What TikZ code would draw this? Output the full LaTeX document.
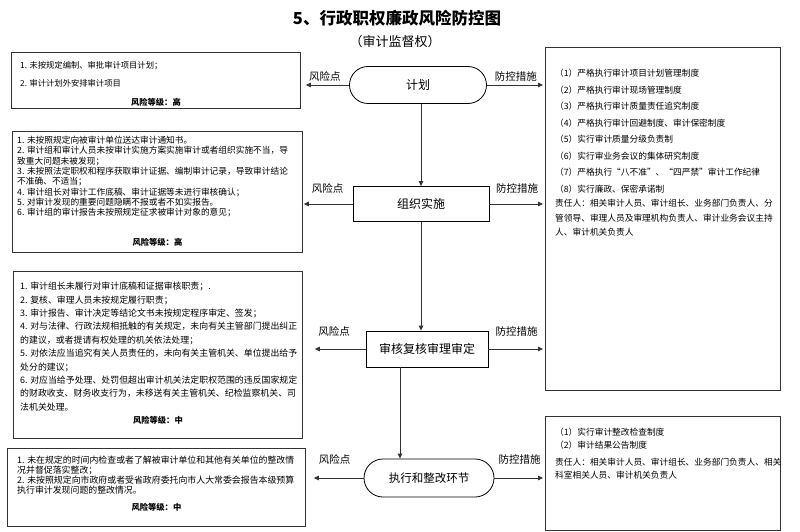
\documentclass[tikz,border=0pt]{standalone}
\usepackage{fontspec}
\setmainfont{Noto Sans CJK SC}
\usetikzlibrary{calc,arrows.meta,shapes.misc}

\begin{document}
\begin{tikzpicture}[x=1pt,y=-1pt,
		stad/.style={rounded rectangle,draw,line width=0.8pt,minimum height=37pt,inner sep=0pt,font=\fontsize{12}{14}\selectfont},
		stepbox/.style={rectangle,draw,line width=0.8pt,minimum height=36pt,inner sep=0pt,font=\fontsize{12}{14}\selectfont},
		box/.style={rectangle,draw=black!80,line width=0.8pt,anchor=north west,inner sep=0pt},
		txt/.style={anchor=north west,inner sep=0pt,align=left},
		lvl/.style={inner sep=0pt,font=\bfseries\fontsize{8.3}{10}\selectfont},
		lbl/.style={inner sep=1pt,font=\fontsize{10.5}{12}\selectfont},
		arr/.style={-{Triangle[length=5pt,width=4.5pt]},line width=0.8pt,draw=black!80}]
		\useasboundingbox (0,0) rectangle (800,532);

		% title
		\node[font=\bfseries\fontsize{16.5}{18}\selectfont] (title) at (397,18) {5、行政职权廉政风险防控图};
		\node[font=\fontsize{13}{15}\selectfont] (subtitle) at (395,42) {（审计监督权）};

		% flow
		\node[stad,minimum width=137pt] (plan) at (418,85) {计划};
		\node[stepbox,minimum width=136pt,minimum height=35pt] (impl) at (421,204) {组织实施};
		\node[stepbox,minimum width=122pt] (review) at (427,349) {审核复核审理审定};
		\node[stad,minimum width=130pt,minimum height=38pt,font=\fontsize{11.5}{14}\selectfont] (exec) at (429,478) {执行和整改环节};

		% risk boxes
		\node[box,minimum width=289pt,minimum height=56pt] (risk1) at (11,52) {};
		\node[box,minimum width=290pt,minimum height=121pt] (risk2) at (12,131) {};
		\node[box,minimum width=289pt,minimum height=167pt] (risk3) at (13,271) {};
		\node[box,minimum width=298pt,minimum height=78pt] (risk4) at (7,448) {};

		% control boxes
		\node[box,minimum width=235pt,minimum height=343pt] (ctl1) at (545,47) {};
		\node[box,minimum width=235pt,minimum height=114pt] (ctl2) at (545,416) {};

		\node[txt,font=\fontsize{8.3}{18}\selectfont] (risktxt1) at (20,61) {1. 未按规定编制、审批审计项目计划；\\
			2. 审计计划外安排审计项目};
		\node[lvl] (lv1) at ([yshift=6pt]risk1.south) {风险等级：高};

		\node[txt,font=\fontsize{8.7}{10.3}\selectfont] (risktxt2) at (17,136) {1. 未按照规定向被审计单位送达审计通知书。\\
			2. 审计组和审计人员未按审计实施方案实施审计或者组织实施不当，导\\
			致重大问题未被发现；\\
			3. 未按照法定职权和程序获取审计证据、编制审计记录，导致审计结论\\
			不准确、不适当；\\
			4. 审计组长对审计工作底稿、审计证据等未进行审核确认；\\
			5. 对审计发现的重要问题隐瞒不报或者不如实报告。\\
			6. 审计组的审计报告未按照规定征求被审计对象的意见；};
		\node[lvl] (lv2) at ([yshift=10pt]risk2.south) {风险等级：高};

		\node[txt,font=\fontsize{8.9}{13.4}\selectfont] (risktxt3) at (20,282) {1. 审计组长未履行对审计底稿和证据审核职责；.\\
			2. 复核、审理人员未按规定履行职责；\\
			3. 审计报告、审计决定等结论文书未按规定程序审定、签发；\\
			4. 对与法律、行政法规相抵触的有关规定，未向有关主管部门提出纠正\\
			的建议，或者提请有权处理的机关依法处理；\\
			5. 对依法应当追究有关人员责任的，未向有关主管机关、单位提出给予\\
			处分的建议；\\
			6. 对应当给予处理、处罚但超出审计机关法定职权范围的违反国家规定\\
			的财政收支、财务收支行为，未移送有关主管机关、纪检监察机关、司\\
			法机关处理。};
		\node[lvl] (lv3) at ([yshift=18pt]risk3.south) {风险等级：中};

		\node[txt,font=\fontsize{8.9}{10}\selectfont] (risktxt4) at (17,456) {1. 未在规定的时间内检查或者了解被审计单位和其他有关单位的整改情\\
			况并督促落实整改；\\
			2. 未按照规定向市政府或者受省政府委托向市人大常委会报告本级预算\\
			执行审计发现问题的整改情况。};
		\node[lvl] (lv4) at ([yshift=19pt]risk4.south) {风险等级：中};

		\node[txt,font=\fontsize{8.7}{16.5}\selectfont] (ctltxt1) at (555,69) {（1）严格执行审计项目计划管理制度\\
			（2）严格执行审计现场管理制度\\
			（3）严格执行审计质量责任追究制度\\
			（4）严格执行审计回避制度、审计保密制度\\
			（5）实行审计质量分级负责制\\
			（6）实行审业务会议的集体研究制度\\
			（7）严格执行“八不准”、“四严禁”审计工作纪律\\
			（8）实行廉政、保密承诺制\\[-2pt]
			责任人：相关审计人员、审计组长、业务部门负责人、分\\[-2pt]
			管领导、审理人员及审理机构负责人、审计业务会议主持\\[-2pt]
			人、审计机关负责人};

		\node[txt,font=\fontsize{8.7}{13}\selectfont] (ctltxt2) at (555,428) {（1）实行审计整改检查制度\\
			（2）审计结果公告制度\\[4pt]
			责任人：相关审计人员、审计组长、业务部门负责人、相关\\
			科室相关人员、审计机关负责人};

		% connectors
		\coordinate (rx) at ($(review.south)+(-27,0)$);
		\draw[arr] (plan.south -| impl.north) -- (impl.north);
		\draw[arr] (impl.south) -- (impl.south |- review.north);
		\draw[arr] (rx) -- (rx |- exec.north);

		\draw[arr,shorten >=5pt] (plan.west) -- (plan.west -| risk1.east) node[lbl,midway,above=2pt] (rp1) {风险点};
		\draw[arr,shorten >=1pt] (impl.west) -- (impl.west -| risk2.east) node[lbl,midway,above=9pt] (rp2) {风险点};
		\draw[arr,shorten >=12pt] (review.west) -- (review.west -| risk3.east) node[lbl,midway,above=11pt] (rp3) {风险点};
		\draw[arr,shorten >=8pt] (exec.west) -- (exec.west -| risk4.east) node[lbl,midway,above=12pt] (rp4) {风险点};

		\draw[arr,shorten >=2pt] (plan.east) -- (plan.east -| ctl1.west) node[lbl,midway,above=2pt] (cm1) {防控措施};
		\draw[arr,shorten >=2pt] (impl.east) -- (impl.east -| ctl1.west) node[lbl,midway,above=9pt] (cm2) {防控措施};
		\draw[arr,shorten >=2pt] (review.east) -- (review.east -| ctl1.west) node[lbl,midway,above=11pt] (cm3) {防控措施};
		\draw[arr,shorten >=2pt] (exec.east) -- (exec.east -| ctl2.west) node[lbl,midway,above=12pt] (cm4) {防控措施};
	\end{tikzpicture}
\end{document}
